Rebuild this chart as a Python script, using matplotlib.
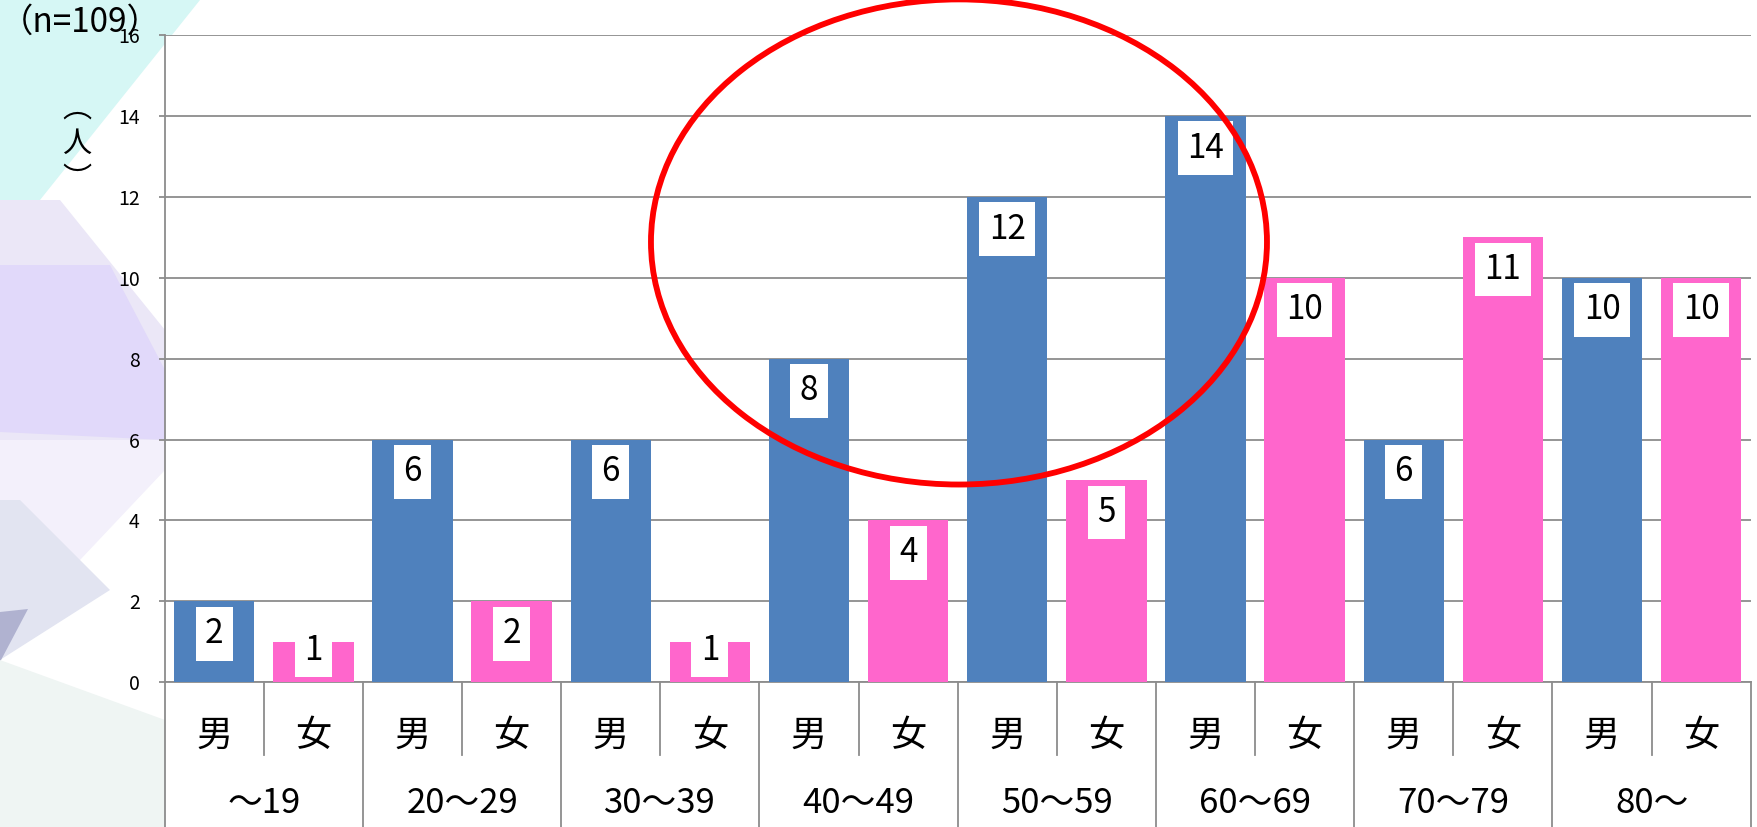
import matplotlib
matplotlib.use('Agg')
import matplotlib.pyplot as plt
from matplotlib.patches import Polygon, Ellipse

plt.rcParams['font.family'] = ['Noto Sans CJK JP', 'DejaVu Sans']

# データ
age_groups = ['～19', '20～29', '30～39', '40～49', '50～59', '60～69', '70～79', '80～']
sexes = ['男', '女']
male = [2, 6, 6, 8, 12, 14, 6, 10]
female = [1, 2, 1, 4, 5, 10, 11, 10]
y_ticks = [0, 2, 4, 6, 8, 10, 12, 14, 16]

W, H = 1757, 827
BLUE = '#4F81BD'
PINK = '#FF66CC'
GRID = '#8c8c8c'

fig = plt.figure(figsize=(W / 100, H / 100), dpi=100)


def fpx(x, y):
    # ピクセル座標 -> figure座標
    return (x / W, 1 - y / H)


# 背景の飾り（左側の淡い三角形）
bg_shapes = [
    ([(0, 0), (200, 0), (0, 250)], '#d6f7f5'),
    ([(0, 200), (60, 200), (165, 330), (165, 440), (0, 440)], '#ebe7f7'),
    ([(0, 265), (110, 265), (165, 370), (165, 440), (0, 432)], '#e1d9fa'),
    ([(0, 440), (165, 440), (165, 470), (80, 560), (0, 560)], '#f3f0fb'),
    ([(0, 500), (20, 500), (110, 590), (0, 660)], '#e2e4f1'),
    ([(0, 612), (28, 609), (0, 662)], '#b0b2d0'),
    ([(0, 660), (165, 720), (165, 827), (0, 827)], '#eff5f3'),
]
for pts, c in bg_shapes:
    fig.add_artist(Polygon([fpx(*p) for p in pts], closed=True,
                           transform=fig.transFigure, facecolor=c,
                           edgecolor='none', zorder=0))

ax_left, ax_right = 164.7, 1750.7
ax_top, ax_bottom = 34.7, 682.4
ax = fig.add_axes([ax_left / W, (H - ax_bottom) / H,
                   (ax_right - ax_left) / W, (ax_bottom - ax_top) / H])
ax.set_facecolor('white')

xm = [2 * i for i in range(len(age_groups))]
xf = [2 * i + 1 for i in range(len(age_groups))]
ax.bar(xm, male, width=0.81, color=BLUE, zorder=3)
ax.bar(xf, female, width=0.81, color=PINK, zorder=3)

# データラベル（白い箱）
for xs, vals in [(xm, male), (xf, female)]:
    for x, v in zip(xs, vals):
        ax.text(x, max(v - 0.8, 0.8), str(v), ha='center', va='center',
                fontsize=24, zorder=4,
                bbox=dict(boxstyle='square,pad=0.28', fc='white', ec='none'))

ax.set_xlim(-0.5, 15.5)
ax.set_ylim(0, 16)
ax.set_yticks(y_ticks)
ax.grid(axis='y', color=GRID, lw=1.3)
ax.set_axisbelow(True)
for s in ['top', 'right']:
    ax.spines[s].set_visible(False)
for s in ['left', 'bottom']:
    ax.spines[s].set_color(GRID)
    ax.spines[s].set_linewidth(1.3)
ax.tick_params(axis='y', length=4, color=GRID, width=1.3, pad=14, labelsize=14)
ax.tick_params(axis='x', bottom=False, labelbottom=False)

# 下の表（男/女、年代）
tr = ax.get_xaxis_transform()
sub_line = -0.112
grp_line = -0.25
for i in range(len(age_groups)):
    ax.plot([2 * i + 0.5] * 2, [0, sub_line], color=GRID, lw=1.3,
            transform=tr, clip_on=False)
for i in range(len(age_groups) + 1):
    ax.plot([2 * i - 0.5] * 2, [0, grp_line], color=GRID, lw=1.3,
            transform=tr, clip_on=False)
for i, g in enumerate(age_groups):
    ax.text(2 * i + 0.5, -0.1875, g, ha='center', va='center', fontsize=25,
            transform=tr)
    for j, s in enumerate(sexes):
        ax.text(2 * i + j, -0.0824, s, ha='center', va='center', fontsize=26,
                transform=tr)

# 赤い楕円
ax.add_patch(Ellipse((0.5008, 0.680), 0.3884, 0.749, transform=ax.transAxes,
                     fill=False, ec='#ff0000', lw=4.2, clip_on=False, zorder=6))

fig.text(*fpx(0, 22), '（n=109）', fontsize=24, ha='left', va='center')
# 縦書きの（人）
fig.text(*fpx(77, 144), '︵\n人\n︶', fontsize=21, ha='center', va='center',
         linespacing=1.25)

fig.savefig('out.png', dpi=100)
